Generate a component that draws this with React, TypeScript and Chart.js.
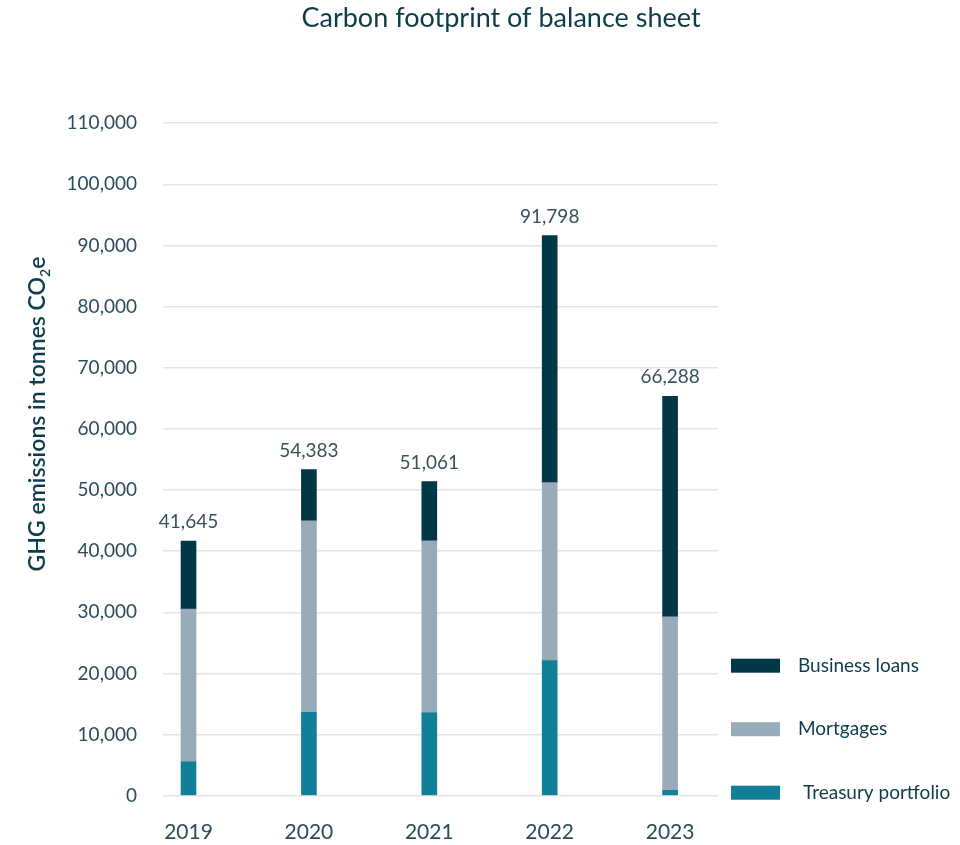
import React, { useEffect, useRef } from 'react';
import { Chart, registerables } from 'chart.js';

Chart.register(...registerables);

const years = ['2019', '2020', '2021', '2022', '2023'];
const treasury = [5560, 13630, 13570, 22110, 880];
const mortgages = [24955, 31320, 28110, 29100, 28360];
const businessLoans = [11130, 8400, 9710, 40400, 36070];
const totalLabels = ['41,645', '54,383', '51,061', '91,798', '66,288'];
const yTicks = [0, 10000, 20000, 30000, 40000, 50000, 60000, 70000, 80000, 90000, 100000, 110000];

const seriesNames = ['Treasury portfolio', 'Mortgages', 'Business loans'];
const seriesColors = ['#117f97', '#97abb8', '#023747'];

const FONT = 'Lato, "Open Sans", sans-serif';
const TEXT = '#2b4d5a';
const DARK = '#0d3c4c';

const decorPlugin = {
  id: 'decor',
  afterDraw(chart: any) {
    const ctx = chart.ctx;
    const area = chart.chartArea;
    ctx.save();
    // Title
    ctx.fillStyle = DARK;
    ctx.font = `27px ${FONT}`;
    ctx.textAlign = 'center';
    ctx.textBaseline = 'middle';
    ctx.fillText('Carbon footprint of balance sheet', 501, 18);

    // Y title, rotated, with subscript
    const main = 'GHG emissions in tonnes CO';
    const big = `600 23px ${FONT}`;
    const small = `600 14px ${FONT}`;
    ctx.font = big;
    const w1 = ctx.measureText(main).width;
    const w3 = ctx.measureText('e').width;
    ctx.font = small;
    const w2 = ctx.measureText('2').width;
    const total = w1 + w2 + w3;
    ctx.translate(38, 414);
    ctx.rotate(-Math.PI / 2);
    ctx.textAlign = 'left';
    ctx.textBaseline = 'middle';
    let x = -total / 2;
    ctx.font = big;
    ctx.fillText(main, x, 0);
    x += w1;
    ctx.font = small;
    ctx.fillText('2', x, 7);
    x += w2;
    ctx.font = big;
    ctx.fillText('e', x, 0);
    ctx.restore();

    // Total labels above bars
    ctx.save();
    const topMeta = chart.getDatasetMeta(chart.data.datasets.length - 1);
    ctx.font = `19px ${FONT}`;
    ctx.fillStyle = '#37525d';
    ctx.textAlign = 'center';
    ctx.textBaseline = 'alphabetic';
    topMeta.data.forEach((bar: any, i: number) => {
      ctx.fillText(totalLabels[i], bar.x, bar.y - 13);
    });

    // Legend
    const order = [2, 1, 0];
    ctx.font = `19px ${FONT}`;
    ctx.textBaseline = 'middle';
    ctx.textAlign = 'left';
    order.forEach((di, row) => {
      const cy = area.bottom - 3 - (2 - row) * 63.5;
      ctx.fillStyle = seriesColors[di];
      ctx.fillRect(area.right + 13, cy - 7, 49, 14);
      ctx.fillStyle = DARK;
      const tx = area.right + 80 + (di === 0 ? 5 : 0);
      ctx.fillText(seriesNames[di], tx, cy);
    });
    ctx.restore();
  },
};

export default function App() {
  const ref = useRef<HTMLCanvasElement | null>(null);
  useEffect(() => {
    if (!ref.current) return;
    const values = [treasury, mortgages, businessLoans];
    const chart = new Chart(ref.current, {
      type: 'bar',
      data: {
        datasets: values.map((arr, di) => ({
          label: seriesNames[di],
          data: arr.map((v, i) => ({ x: i, y: v })),
          backgroundColor: seriesColors[di],
          borderWidth: 0,
          barThickness: 15,
        })),
      },
      options: {
        animation: false,
        responsive: false,
        maintainAspectRatio: false,
        layout: { padding: { top: 123.2, right: 242, bottom: 0, left: 0 } },
        plugins: {
          legend: { display: false },
          title: { display: false },
          tooltip: { enabled: false },
        },
        scales: {
          x: {
            type: 'linear',
            stacked: true,
            offset: false,
            min: -0.212,
            max: 4.398,
            afterBuildTicks: (scale: any) => {
              scale.ticks = years.map((_, i) => ({ value: i }));
            },
            afterFit: (scale: any) => {
              scale.height = 49.3;
            },
            ticks: {
              callback: (v: any) => years[v] ?? '',
              font: { family: FONT, size: 21 },
              color: TEXT,
              padding: 24,
              maxRotation: 0,
              autoSkip: false,
            },
            grid: { display: false, drawTicks: false, offset: false },
            border: { display: false },
          },
          y: {
            stacked: true,
            min: 0,
            max: 110000,
            afterBuildTicks: (scale: any) => {
              scale.ticks = yTicks.map((v) => ({ value: v }));
            },
            afterFit: (scale: any) => {
              scale.width = 163;
            },
            ticks: {
              callback: (v: any) => Number(v).toLocaleString('en-US'),
              font: { family: FONT, size: 19 },
              color: TEXT,
              padding: 26,
            },
            grid: { color: '#e4e4e4', lineWidth: 1.5, drawTicks: false },
            border: { display: false },
          },
        },
      } as any,
      plugins: [decorPlugin],
    });
    return () => chart.destroy();
  }, []);
  return (
    <div style={{ position: 'absolute', left: 0, top: 0, width: 960, height: 845, background: '#fff' }}>
      <canvas ref={ref} width={960} height={845} style={{ width: 960, height: 845 }} />
    </div>
  );
}
